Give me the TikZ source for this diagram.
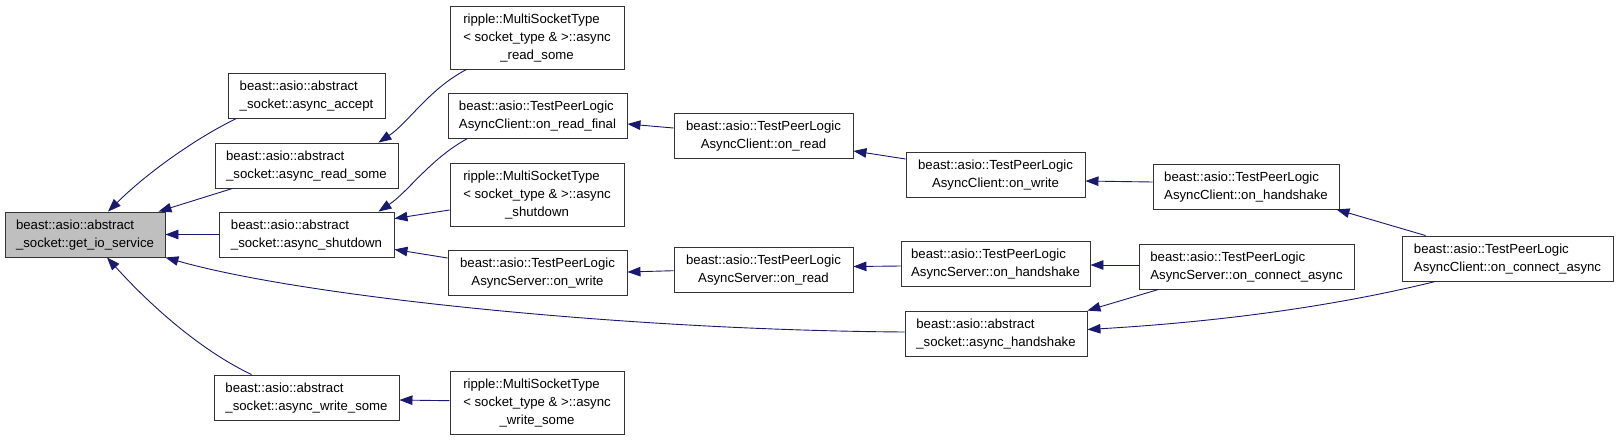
\documentclass[tikz,border=0pt]{standalone}
\usepackage{fontspec}
\setmainfont{Liberation Sans}
\usetikzlibrary{arrows.meta}
\definecolor{navy}{HTML}{191970}
\definecolor{boxgray}{HTML}{BFBFBF}
\newcommand\twol[2]{\begin{tabular}{@{}l@{}}#1\\\multicolumn{1}{@{}c@{}}{#2}\end{tabular}}
\newcommand\threel[3]{\begin{tabular}{@{}l@{}}#1\\#2\\\multicolumn{1}{@{}c@{}}{#3}\end{tabular}}
\begin{document}
\begin{tikzpicture}[x=1pt,y=-1pt,
  fnbox/.style={draw=black!80, line width=0.9pt, fill=white, inner sep=0pt,
    minimum height=45pt, font=\fontsize{13.2}{18}\selectfont},
  tallbox/.style={fnbox, minimum height=63pt},
  callarrow/.style={draw=navy, line width=0.9pt, {Triangle[length=13pt,width=9.5pt]}-}]
\fill[white] (0,0) rectangle (1619,440);
\useasboundingbox (0,0) rectangle (1619,440);
% column 1
\node[fnbox, fill=boxgray, minimum width=160pt] (gio) at (85,234.5) {\twol{beast::asio::abstract}{\_socket::get\_io\_service}};
% column 2
\node[fnbox, minimum width=157pt] (accept) at (306.5,95.5) {\twol{beast::asio::abstract}{\_socket::async\_accept}};
\node[fnbox, minimum width=183pt] (readsome) at (306.5,165.5) {\twol{beast::asio::abstract}{\_socket::async\_read\_some}};
\node[fnbox, minimum width=175pt] (shutdown) at (306.5,234.5) {\twol{beast::asio::abstract}{\_socket::async\_shutdown}};
\node[fnbox, minimum width=185pt] (writesome) at (306.5,397.5) {\twol{beast::asio::abstract}{\_socket::async\_write\_some}};
% column 3
\node[tallbox, minimum width=174pt] (rread) at (537,37.5) {\threel{ripple::MultiSocketType}{< socket\_type \& >::async}{\_read\_some}};
\node[fnbox, minimum width=179pt] (readfinal) at (537.5,115.5) {\twol{beast::asio::TestPeerLogic}{AsyncClient::on\_read\_final}};
\node[tallbox, minimum width=174pt] (rshut) at (537,194.5) {\threel{ripple::MultiSocketType}{< socket\_type \& >::async}{\_shutdown}};
\node[fnbox, minimum width=179pt] (sonwrite) at (537.5,273) {\twol{beast::asio::TestPeerLogic}{AsyncServer::on\_write}};
\node[tallbox, minimum width=174pt] (rwrite) at (537,402.5) {\threel{ripple::MultiSocketType}{< socket\_type \& >::async}{\_write\_some}};
% column 4
\node[fnbox, minimum width=179pt] (conread) at (763.5,136) {\twol{beast::asio::TestPeerLogic}{AsyncClient::on\_read}};
\node[fnbox, minimum width=179pt] (sonread) at (763.5,269.5) {\twol{beast::asio::TestPeerLogic}{AsyncServer::on\_read}};
% column 5
\node[fnbox, minimum width=179pt] (conwrite) at (995.5,174.5) {\twol{beast::asio::TestPeerLogic}{AsyncClient::on\_write}};
\node[fnbox, minimum width=189pt] (sonhs) at (995.5,264) {\twol{beast::asio::TestPeerLogic}{AsyncServer::on\_handshake}};
\node[fnbox, minimum width=182pt] (ahs) at (996,333.5) {\twol{beast::asio::abstract}{\_socket::async\_handshake}};
% column 6
\node[fnbox, minimum width=186pt] (conhs) at (1246,186.5) {\twol{beast::asio::TestPeerLogic}{AsyncClient::on\_handshake}};
\node[fnbox, minimum width=215pt] (sonca) at (1246.5,266.5) {\twol{beast::asio::TestPeerLogic}{AsyncServer::on\_connect\_async}};
% column 7
\node[fnbox, minimum width=211pt] (conca) at (1507.5,258.5) {\twol{beast::asio::TestPeerLogic}{AsyncClient::on\_connect\_async}};
% connectors (arrow at the callee)
\draw[callarrow] ([xshift=23pt]gio.north) .. controls (150,170) and (200,136) .. ([xshift=9pt]accept.south west);
\draw[callarrow] ([xshift=-7pt]gio.north east) -- ([xshift=18pt]readsome.south west);
\draw[callarrow] (gio.east) -- (shutdown.west);
\draw[callarrow] (gio.south east) .. controls (300,296) and (620,330) .. ([yshift=1.5pt]ahs.west);
\draw[callarrow] ([xshift=22pt]gio.south) .. controls (150,305) and (200,350) .. ([xshift=38pt]writesome.north west);
\draw[callarrow] ([xshift=-20pt]readsome.north east) .. controls (408,123) and (429,89) .. ([xshift=17pt]rread.south west);
\draw[callarrow] ([xshift=-16pt]shutdown.north east) .. controls (408,192) and (430,159) .. ([xshift=20pt]readfinal.south west);
\draw[callarrow] ([yshift=-7pt]shutdown.north east) -- ([yshift=-15.5pt]rshut.west);
\draw[callarrow] ([yshift=8pt]shutdown.south east) -- ([yshift=15pt]sonwrite.west);
\draw[callarrow] ([yshift=-2.5pt]writesome.east) -- ([yshift=1.8pt]rwrite.west);
\draw[callarrow] ([yshift=-8.5pt]readfinal.east) -- ([yshift=8pt]conread.west);
\draw[callarrow] ([yshift=8pt]conread.south east) -- ([yshift=15.5pt]conwrite.west);
\draw[callarrow] ([yshift=1pt]sonwrite.east) -- ([yshift=-1.2pt]sonread.west);
\draw[callarrow] ([yshift=3pt]sonread.east) -- ([yshift=-2pt]sonhs.west);
\draw[callarrow] ([yshift=-6.5pt]conwrite.east) -- ([yshift=4.5pt]conhs.west);
\draw[callarrow] ([yshift=-1pt]sonhs.east) -- ([yshift=1.5pt]sonca.west);
\draw[callarrow] (ahs.north east) -- ([xshift=20pt]sonca.south west);
\draw[callarrow] ([xshift=-3pt]conhs.south east) -- ([xshift=24pt]conca.north west);
\draw[callarrow] ([yshift=4pt]ahs.east) .. controls (1250,320) and (1360,300) .. ([xshift=34pt]conca.south west);
\end{tikzpicture}
\end{document}
